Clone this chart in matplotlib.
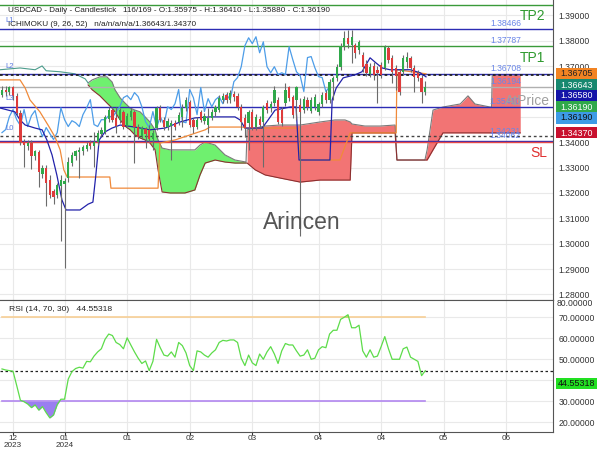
import numpy as np
import matplotlib
matplotlib.use("Agg")
import matplotlib.pyplot as plt
from matplotlib.patches import Rectangle

plt.rcParams["font.family"] = ["Liberation Sans", "DejaVu Sans"]

# candles (USDCAD daily)
opens = [1.3588, 1.3608, 1.3600, 1.3616, 1.3584, 1.3517, 1.3403, 1.3387, 1.3399, 1.3344,
         1.3360, 1.3273, 1.3300, 1.3253, 1.3206, 1.3194, 1.3226, 1.3237, 1.3261, 1.3320,
         1.3344, 1.3360, 1.3364, 1.3375, 1.3399, 1.3387, 1.3403, 1.3434, 1.3442, 1.3493,
         1.3529, 1.3497, 1.3489, 1.3521, 1.3466, 1.3501, 1.3521, 1.3462, 1.3426, 1.3454,
         1.3450, 1.3411, 1.3458, 1.3536, 1.3489, 1.3462, 1.3466, 1.3477, 1.3481, 1.3501,
         1.3536, 1.3560, 1.3489, 1.3462, 1.3521, 1.3485, 1.3470, 1.3497, 1.3521, 1.3529,
         1.3568, 1.3588, 1.3568, 1.3592, 1.3584, 1.3540, 1.3497, 1.3477, 1.3521, 1.3462,
         1.3493, 1.3481, 1.3556, 1.3536, 1.3556, 1.3568, 1.3529, 1.3556, 1.3616, 1.3580,
         1.3568, 1.3548, 1.3529, 1.3568, 1.3525, 1.3540, 1.3521, 1.3552, 1.3596, 1.3568,
         1.3639, 1.3655, 1.3698, 1.3781, 1.3812, 1.3785, 1.3785, 1.3765, 1.3745, 1.3710,
         1.3671, 1.3702, 1.3686, 1.3706, 1.3694, 1.3773, 1.3734, 1.3694, 1.3678, 1.3678,
         1.3718, 1.3734, 1.3694, 1.3674, 1.3655, 1.35975]
highs = [1.3623, 1.3620, 1.3623, 1.3623, 1.3596, 1.3529, 1.3411, 1.3407, 1.3407, 1.3371,
         1.3371, 1.3312, 1.3312, 1.3269, 1.3214, 1.3241, 1.3269, 1.3261, 1.3340, 1.3360,
         1.3371, 1.3383, 1.3391, 1.3403, 1.3407, 1.3442, 1.3450, 1.3462, 1.3509, 1.3540,
         1.3540, 1.3540, 1.3536, 1.3529, 1.3517, 1.3536, 1.3529, 1.3473, 1.3466, 1.3462,
         1.3470, 1.3450, 1.3544, 1.3548, 1.3501, 1.3497, 1.3489, 1.3489, 1.3521, 1.3552,
         1.3580, 1.3568, 1.3497, 1.3501, 1.3529, 1.3517, 1.3536, 1.3533, 1.3548, 1.3588,
         1.3596, 1.3600, 1.3608, 1.3604, 1.3596, 1.3552, 1.3513, 1.3529, 1.3533, 1.3513,
         1.3505, 1.3548, 1.3568, 1.3564, 1.3620, 1.3580, 1.3540, 1.3635, 1.3623, 1.3588,
         1.3623, 1.3576, 1.3584, 1.3580, 1.3580, 1.3592, 1.3560, 1.3600, 1.3608, 1.3651,
         1.3663, 1.3710, 1.3793, 1.3840, 1.3844, 1.3844, 1.3793, 1.3804, 1.3757, 1.3726,
         1.3714, 1.3718, 1.3702, 1.3718, 1.3785, 1.3781, 1.3745, 1.3706, 1.3686, 1.3745,
         1.3757, 1.3742, 1.3706, 1.3686, 1.3667, 1.36410]
lows = [1.3580, 1.3584, 1.3588, 1.3568, 1.3509, 1.3391, 1.3304, 1.3371, 1.3293, 1.3332,
        1.3222, 1.3261, 1.3147, 1.3182, 1.3155, 1.3182, 1.3009, 1.2903, 1.3245, 1.3308,
        1.3332, 1.3261, 1.3348, 1.3364, 1.3375, 1.3304, 1.3391, 1.3426, 1.3434, 1.3481,
        1.3481, 1.3438, 1.3477, 1.3454, 1.3458, 1.3489, 1.3320, 1.3411, 1.3411, 1.3379,
        1.3403, 1.3371, 1.3450, 1.3481, 1.3450, 1.3450, 1.3332, 1.3450, 1.3470, 1.3462,
        1.3525, 1.3462, 1.3438, 1.3454, 1.3481, 1.3473, 1.3438, 1.3489, 1.3505, 1.3521,
        1.3556, 1.3556, 1.3556, 1.3564, 1.3529, 1.3450, 1.3422, 1.3371, 1.3450, 1.3450,
        1.3458, 1.3304, 1.3517, 1.3521, 1.3544, 1.3473, 1.3466, 1.3544, 1.3564, 1.3497,
        1.3489, 1.3029, 1.3517, 1.3529, 1.3517, 1.3529, 1.3509, 1.3540, 1.3556, 1.3556,
        1.3568, 1.3643, 1.3686, 1.3765, 1.3773, 1.3714, 1.3734, 1.3749, 1.3678, 1.3663,
        1.3659, 1.3647, 1.3556, 1.3655, 1.3686, 1.3714, 1.3635, 1.3608, 1.3588, 1.3667,
        1.3694, 1.3678, 1.3600, 1.3643, 1.3556, 1.35880]
closes = [1.3608, 1.3600, 1.3616, 1.3584, 1.3517, 1.3403, 1.3391, 1.3399, 1.3344, 1.3364,
          1.3281, 1.3300, 1.3241, 1.3194, 1.3186, 1.3233, 1.3253, 1.3249, 1.3324, 1.3348,
          1.3364, 1.3371, 1.3383, 1.3391, 1.3387, 1.3403, 1.3438, 1.3450, 1.3501, 1.3529,
          1.3489, 1.3466, 1.3529, 1.3462, 1.3505, 1.3525, 1.3462, 1.3422, 1.3458, 1.3434,
          1.3411, 1.3438, 1.3536, 1.3489, 1.3462, 1.3485, 1.3477, 1.3462, 1.3509, 1.3536,
          1.3568, 1.3470, 1.3462, 1.3489, 1.3489, 1.3505, 1.3497, 1.3521, 1.3540, 1.3576,
          1.3584, 1.3568, 1.3596, 1.3580, 1.3540, 1.3481, 1.3458, 1.3521, 1.3458, 1.3501,
          1.3470, 1.3540, 1.3529, 1.3552, 1.3608, 1.3481, 1.3477, 1.3608, 1.3576, 1.3509,
          1.3616, 1.3521, 1.3572, 1.3540, 1.3568, 1.3580, 1.3552, 1.3588, 1.3568, 1.3639,
          1.3655, 1.3698, 1.3781, 1.3812, 1.3789, 1.3816, 1.3753, 1.3796, 1.3698, 1.3674,
          1.3698, 1.3667, 1.3674, 1.3667, 1.3777, 1.3726, 1.3678, 1.3663, 1.3600, 1.3734,
          1.3738, 1.3694, 1.3659, 1.3655, 1.3600, 1.36190]

# ichimoku lines as (bar, price) vertices
tenkan_bar = [-0.5, 3.5, 4.9, 6.3, 9.0, 10.9, 12.2, 13.6, 14.9, 16.3, 17.4, 21.2, 23.4, 24.7,
              25.5, 26.4, 28.0, 29.9, 32.1, 36.1, 40.2, 44.3, 48.4, 52.4, 56.5, 63.3, 64.7,
              66.0, 70.7, 72.3, 74.2, 78.3, 79.9, 80.7, 89.1, 89.7, 90.8, 92.7, 95.9, 97.8,
              100.0, 101.6, 103.3, 105.4, 110.9, 113.6, 115.2]
tenkan_val = [1.3535, 1.3520, 1.3488, 1.3468, 1.3456, 1.3449, 1.3409, 1.3350, 1.3271, 1.3172,
              1.3133, 1.3133, 1.3156, 1.3164, 1.3271, 1.3409, 1.3441, 1.3456, 1.3468, 1.3460,
              1.3449, 1.3456, 1.3480, 1.3496, 1.3500, 1.3500, 1.3488, 1.3456, 1.3456, 1.3488,
              1.3527, 1.3539, 1.3539, 1.3330, 1.3330, 1.3567, 1.3614, 1.3654, 1.3666, 1.3678,
              1.3733, 1.3713, 1.3693, 1.3686, 1.3686, 1.3674, 1.3658]

kijun_bar = [-0.5, 4.9, 6.3, 7.6, 10.3, 12.5, 14.4, 15.8, 16.8, 17.7, 29.3, 29.6, 42.4, 42.9,
             47.0, 51.1, 55.2, 56.5, 65.5, 66.0, 80.4, 81.0, 91.8, 94.6, 107.1, 107.3, 115.2]
kijun_val = [1.3646, 1.3646, 1.3614, 1.3567, 1.3520, 1.3468, 1.3421, 1.3370, 1.3291, 1.3263,
             1.3263, 1.3219, 1.3219, 1.3397, 1.3409, 1.3429, 1.3449, 1.3460, 1.3460, 1.3456,
             1.3456, 1.3330, 1.3330, 1.3437, 1.3437, 1.3686, 1.3670]

span_a_early_bar = [-0.5, 4.9, 9.0, 10.9, 12.0, 15.8, 19.8, 22.6, 23.4]
span_a_early_val = [1.3686, 1.3693, 1.3686, 1.3701, 1.3682, 1.3678, 1.3670, 1.3650, 1.3634]

cloud_bar = [23.4, 24.5, 26.6, 28.5, 29.9, 30.7, 32.1, 33.4, 34.8, 36.1, 37.5, 38.9, 40.2,
             41.6, 42.4, 43.5, 45.7, 49.7, 52.4, 53.8, 55.2, 57.9, 60.6, 63.3, 66.3, 66.6,
             68.8, 71.5, 75.5, 81.0, 86.4, 90.5, 93.2, 94.6, 95.1, 98.6, 102.7, 106.8, 107.3,
             114.9, 115.5, 117.1, 119.8, 124.5, 126.6, 128.5, 132.6, 133.0, 133.2, 140.8]
span_a = [1.3634, 1.3646, 1.3658, 1.3658, 1.3638, 1.3607, 1.3575, 1.3555, 1.3535, 1.3527,
          1.3520, 1.3500, 1.3480, 1.3449, 1.3409, 1.3377, 1.3370, 1.3370, 1.3370, 1.3389,
          1.3401, 1.3389, 1.3350, 1.3330, 1.3322, 1.3449, 1.3456, 1.3464, 1.3468, 1.3468,
          1.3480, 1.3488, 1.3488, 1.3480, 1.3472, 1.3464, 1.3464, 1.3468, 1.3330, 1.3330,
          1.3370, 1.3527, 1.3539, 1.3551, 1.3583, 1.3551, 1.3539, 1.3539, 1.3666, 1.3666]
span_b = [1.3626, 1.3607, 1.3583, 1.3555, 1.3535, 1.3520, 1.3488, 1.3464, 1.3449, 1.3429,
          1.3417, 1.3409, 1.3397, 1.3370, 1.3291, 1.3204, 1.3200, 1.3200, 1.3212, 1.3271,
          1.3318, 1.3330, 1.3322, 1.3318, 1.3318, 1.3318, 1.3291, 1.3271, 1.3259, 1.3243,
          1.3251, 1.3251, 1.3251, 1.3251, 1.3437, 1.3437, 1.3437, 1.3437, 1.3330, 1.3330,
          1.3330, 1.3370, 1.3437, 1.3437, 1.3437, 1.3437, 1.3437, 1.3437, 1.3437, 1.3437]

# RSI (14)
rsi = [45.4, 44.9, 44.6, 44.3, 37.5, 30.5, 29.8, 28.7, 27.0, 28.3,
       25.8, 27.5, 24.6, 22.1, 23.5, 28.4, 31.0, 31.0, 40.6, 44.1,
       45.6, 46.2, 45.8, 49.0, 48.8, 51.5, 53.5, 55.0, 59.5, 62.0,
       61.3, 58.0, 57.0, 55.0, 60.2, 56.8, 53.5, 50.5, 48.0, 49.2,
       44.6, 49.0, 59.5, 55.5, 52.0, 51.5, 53.5, 51.0, 58.0, 56.5,
       53.0, 47.0, 44.6, 54.0, 53.5, 52.0, 51.0, 53.0, 54.5, 58.0,
       59.0, 58.7, 59.2, 59.2, 58.0, 50.5, 47.0, 52.0, 48.3, 47.0,
       52.5, 50.0, 53.5, 56.0, 52.5, 48.0, 54.0, 57.5, 56.8, 56.8,
       54.0, 51.5, 52.0, 54.5, 50.0, 50.5, 54.5, 56.0, 55.5, 62.0,
       63.8, 63.8, 69.0, 70.0, 71.2, 65.0, 65.0, 66.2, 54.0, 51.0,
       54.5, 51.0, 51.5, 56.0, 60.8, 55.0, 50.0, 50.0, 50.0, 55.0,
       55.8, 51.0, 50.0, 49.0, 42.2, 44.55318]

# horizontal levels
blue_levels = [1.38466, 1.36708, 1.35410, 1.34062]
green_levels = [1.39420, 1.37787]
gray_levels = [1.36194]
sl_level = 1.34000
dotted_levels = [1.36643, 1.34231]
level_labels = [1.38466, 1.37787, 1.36708, 1.36194, 1.35410, 1.34231, 1.34062]

price_ticks = [1.28, 1.29, 1.30, 1.31, 1.32, 1.33, 1.34, 1.35, 1.36, 1.37, 1.38, 1.39]
date_ticks = [3, 17, 34, 51, 68, 86, 103, 120, 137]
date_labels = ["12\n2023", "01\n2024", "01", "02", "03", "04", "04", "05", "06"]

side_boxes = [("1.36705", "#f28322", "#222222"), ("1.36643", "#17886f", "white"),
              ("1.36580", "#1414a8", "white"), ("1.36190", "#2fa84a", "white"),
              ("1.36190", "#3d9be6", "#111111"), ("1.34370", "#c8102e", "white")]
side_box_y = [74, 85, 96, 107, 118, 133]

W, H = 600, 450
fig = plt.figure(figsize=(6, 4.5), dpi=100)
ax = fig.add_axes([0, 150 / H, 553 / W, 300 / H])
ax2 = fig.add_axes([0, 18 / H, 553 / W, 132 / H])

idx = np.arange(len(closes))
o = np.array(opens)
c = np.array(closes)
hi = np.array(highs)
lo = np.array(lows)

grid_c = "#e9e9e9"
for t in date_ticks:
    ax.axvline(t, color=grid_c, lw=0.8, zorder=0)
    ax2.axvline(t, color=grid_c, lw=0.8, zorder=0)
for p in price_ticks:
    ax.axhline(p, color=grid_c, lw=0.8, zorder=0)

# cloud
cb = np.array(cloud_bar)
sa = np.array(span_a)
sb = np.array(span_b)
ax.fill_between(cb, sa, sb, where=cb <= 66.4, color="#6ff06f", lw=0, zorder=1)
ax.fill_between(cb, sa, sb, where=cb >= 66.5, color="#f27474", lw=0, zorder=1)
ax.plot(cb, sa, color="#7a7a7a", lw=0.8, zorder=2)
ax.plot(cb, sb, color="#8b3030", lw=0.8, zorder=2)
ax.plot(span_a_early_bar, span_a_early_val, color="#4c9c8c", lw=0.8, zorder=2)

# levels
for lv in blue_levels:
    ax.axhline(lv, color="#2c2cb4", lw=1.0, zorder=3)
for lv in green_levels:
    ax.axhline(lv, color="#3a9a3a", lw=1.0, zorder=3)
for lv in gray_levels:
    ax.axhline(lv, color="#b0b0b0", lw=1.0, zorder=3)
ax.axhline(sl_level, color="#e84848", lw=1.0, zorder=3)
ax.axhline(dotted_levels[0], color="#222222", lw=1.3, ls=(0, (1.5, 1.5)), zorder=3)
ax.axhline(dotted_levels[1], color="#444444", lw=1.0, ls=(0, (2, 2)), zorder=3)

for lv in level_labels:
    ax.text(141, lv + 0.0003, "%.5f" % lv, color="#6a86e8", fontsize=6.2, ha="right",
            va="bottom", zorder=6)

# ichimoku lines
ax.plot(idx[26:] - 26, c[26:], color="#4d9de8", lw=0.9, zorder=4)
ax.plot(kijun_bar, kijun_val, color="#f08a3a", lw=0.9, zorder=4)
ax.plot(tenkan_bar, tenkan_val, color="#2222aa", lw=0.9, zorder=4)

# candles
up = c >= o
ax.vlines(idx, lo, hi, color="#6b6b6b", lw=0.8, zorder=5)
ax.bar(idx[up], (c - o)[up], bottom=o[up], width=0.62, color="#2fa84a", zorder=6)
ax.bar(idx[~up], (c - o)[~up], bottom=o[~up], width=0.62, color="#de3b3b", zorder=6)

ax.set_xlim(-0.54, 149.7)
ax.set_ylim(1.2778, 1.3961)
ax.set_xticks([])
ax.yaxis.tick_right()
ax.set_yticks(price_ticks)
ax.set_yticklabels(["" if p in (1.35, 1.36) else "%.5f" % p for p in price_ticks])
ax.tick_params(axis="y", length=0, labelsize=6.2, colors="#333333", pad=4)
for s in ["left", "top"]:
    ax.spines[s].set_visible(False)
ax.spines["right"].set_color("#555555")
ax.spines["bottom"].set_color("#555555")

# texts
ax.text(140.6, 1.3942 - 0.0017, "TP2", color="#2f9a2f", fontsize=10, ha="left", va="top")
ax.text(140.6, 1.37787 - 0.0017, "TP1", color="#2f9a2f", fontsize=10, ha="left", va="top")
ax.text(143.6, sl_level - 0.0015, "SL", color="#e03030", fontsize=10, ha="left", va="top")
ax.text(148.9, 1.3563, "AtPrice", color="#a0a0a0", fontsize=10, ha="right", va="center",
        zorder=7)
ax.text(81.5, 1.3082, "Arincen", color="#555555", fontsize=16.5, ha="center", va="center",
        zorder=7)
fig.text(8 / W, 1 - 10 / H,
         "USDCAD - Daily - Candlestick   116/169 - O:1.35975 - H:1.36410 - L:1.35880 - C:1.36190",
         fontsize=5.9, color="#222222", va="center")
fig.text(8 / W, 1 - 25 / H, "ICHIMOKU (9, 26, 52)   n/a/n/a/n/a/1.36643/1.34370",
         fontsize=5.9, color="#222222", va="center")
for name, yy in [("L1", 20), ("L2", 66), ("L3", 98), ("L0", 128)]:
    fig.text(5 / W, 1 - yy / H, name, fontsize=5.5, color="#5a78e0", va="center")


def side_box(text, yy, fc, tc):
    fig.add_artist(Rectangle((556 / W, 1 - (yy + 5.5) / H), 41 / W, 11 / H,
                             transform=fig.transFigure, fc=fc, ec="none", zorder=5))
    fig.text(576.5 / W, 1 - yy / H, text, fontsize=6.4, color=tc, va="center",
             ha="center", zorder=6)


for (txt, fc, tc), yy in zip(side_boxes, side_box_y):
    side_box(txt, yy, fc, tc)

# RSI panel
r = np.array(rsi)
ax2.plot(idx, r, color="#5ddc4a", lw=0.9, zorder=4)
ax2.fill_between(idx, r, 30, where=r < 30, interpolate=True, color="#9a7ef0", lw=0, zorder=3)
ax2.fill_between(idx, r, 70, where=r > 70, interpolate=True, color="#b8d85a", lw=0, zorder=3)
ax2.plot([0, 115], [70, 70], color="#f7cf95", lw=1.2, zorder=2)
ax2.plot([0, 115], [30, 30], color="#b287f0", lw=1.2, zorder=2)
ax2.axhline(44.55318, color="#222222", lw=0.9, ls=(0, (2, 2)), zorder=3)
for v in [20, 30, 40, 50, 60, 70]:
    ax2.axhline(v, color=grid_c, lw=0.8, zorder=0)
ax2.set_xlim(-0.54, 149.7)
ax2.set_ylim(15.4, 78.2)
ax2.yaxis.tick_right()
ax2.set_yticks([20, 30, 40, 50, 60, 70])
ax2.set_yticklabels(["%.5f" % v for v in [20, 30, 40, 50, 60, 70]])
ax2.tick_params(axis="y", length=0, labelsize=6.2, colors="#333333", pad=4)
ax2.set_xticks(date_ticks)
ax2.set_xticklabels(date_labels, linespacing=0.95)
ax2.tick_params(axis="x", length=2, labelsize=5.9, colors="#333333", pad=0.5)
ax2.spines["left"].set_visible(False)
for s in ["right", "top", "bottom"]:
    ax2.spines[s].set_color("#555555")
ax2.text(2, 75.5, "RSI (14, 70, 30)   44.55318", fontsize=6.1, color="#222222", va="top")
fig.text(557 / W, 1 - 304 / H, "80.00000", fontsize=6.2, color="#333333", va="center")
side_box("44.55318", 383, "#22e022", "#111111")

fig.savefig("out.png", dpi=100)
